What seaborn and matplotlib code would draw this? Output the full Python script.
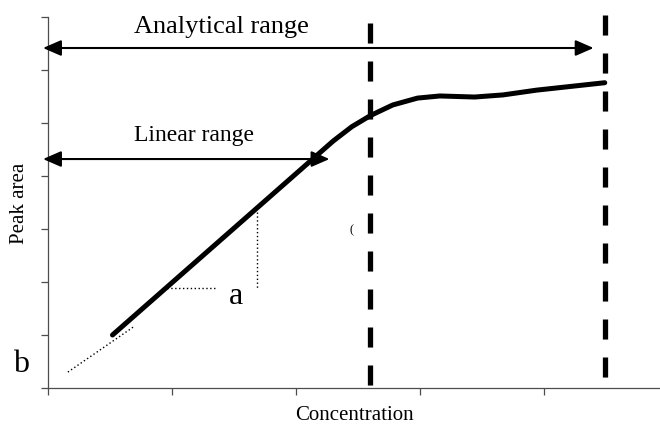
import matplotlib
matplotlib.use("Agg")
import matplotlib.pyplot as plt
import seaborn as sns

# ---- data (in axis units) ----
curve_x = [0.52, 2.30, 2.45, 2.60, 2.78, 2.98, 3.16, 3.44, 3.67, 3.94, 4.49]
curve_y = [1.00, 4.66, 4.93, 5.14, 5.34, 5.47, 5.51, 5.49, 5.53, 5.62, 5.76]

limit_x = [2.60, 4.49]            # dashed vertical limits
limit_top = [6.89, 7.04]
limit_bottom = [-0.28, -0.08]

analytical_arrow = (-0.04, 4.40, 6.415)   # x0, x1, y
linear_arrow = (-0.04, 2.27, 4.32)

slope_h = ([0.93, 1.36], [1.89, 1.89])
slope_v = ([1.685, 1.685], [3.32, 1.89])
extrap = ([0.16, 0.70], [0.30, 1.17])

xticks = [0, 1, 2, 3, 4]
yticks = [0, 1, 2, 3, 4, 5, 6, 7]

sns.set_style("ticks")
plt.rcParams['font.family'] = ['Liberation Serif', 'DejaVu Serif']
plt.rcParams['text.color'] = 'black'
plt.rcParams['axes.labelcolor'] = 'black'

fig = plt.figure(figsize=(6.6, 4.29), dpi=100)
ax = fig.add_axes([48/660, 1-388/429, (660-48)/660, (388-17)/429])

sns.lineplot(x=curve_x, y=curve_y, ax=ax, color='black', lw=3.6, sort=False,
             solid_capstyle='round', solid_joinstyle='round')

for x, t, b in zip(limit_x, limit_top, limit_bottom):
    ax.plot([x, x], [t, b], color='black', lw=3.8, ls=(0, (3.8, 3.4)),
            dash_capstyle='butt', clip_on=False, zorder=3)

for x0, x1, y in [analytical_arrow, linear_arrow]:
    ax.annotate('', xy=(x1, y), xytext=(x0, y),
                arrowprops=dict(arrowstyle='<|-|>,head_length=0.55,head_width=0.24',
                                mutation_scale=20, color='black', lw=1.5,
                                shrinkA=0, shrinkB=0),
                annotation_clip=False, zorder=4)

for xs, ys in [slope_h, slope_v, extrap]:
    ax.plot(xs, ys, color='black', lw=1.0, ls=(0, (1, 1.8)), clip_on=False)

ax.text(1.40, 6.81, 'Analytical range', ha='center', va='center', fontsize=19)
ax.text(1.18, 4.755, 'Linear range', ha='center', va='center', fontsize=17)
ax.text(1.516, 1.72, 'a', ha='center', va='center', fontsize=23)
ax.text(-0.218, 0.45, 'b', ha='center', va='center', fontsize=23, clip_on=False)
ax.text(2.444, 2.98, '(', ha='center', va='center', fontsize=9)

ax.set_xlim(0, 612/124)
ax.set_ylim(0, 7)
ax.set_xticks(xticks)
ax.set_yticks(yticks)
ax.set_xticklabels([])
ax.set_yticklabels([])
ax.tick_params(direction='out', length=5, width=0.9, color='0.3')
for s in ['top', 'right']:
    ax.spines[s].set_visible(False)
for s in ['left', 'bottom']:
    ax.spines[s].set_color('0.3')
    ax.spines[s].set_linewidth(0.9)

ax.set_xlabel('Concentration', fontsize=15)
ax.set_ylabel('Peak area', fontsize=15)
ax.xaxis.set_label_coords(0.5, (388-415)/371)
ax.xaxis.label.set_va('center')
ax.yaxis.set_label_coords((20-48)/612, (388-203)/371)
ax.yaxis.label.set_va('center')

fig.savefig('out.png', dpi=100)
